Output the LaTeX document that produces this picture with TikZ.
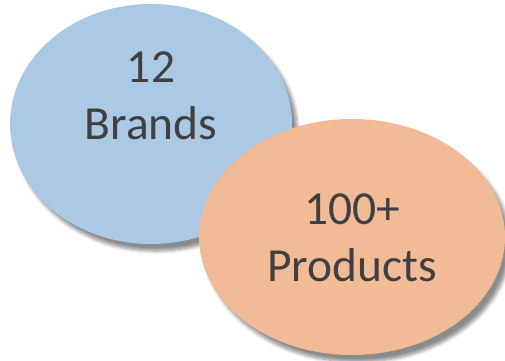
\documentclass[tikz,border=0pt]{standalone}
\usepackage{fontspec}
\setmainfont{Carlito}
\usepackage{xcolor}
\usetikzlibrary{shapes.geometric,shadows.blur}
\definecolor{brandblue}{RGB}{171,200,229}
\definecolor{prodorange}{RGB}{242,187,151}
\definecolor{textgray}{RGB}{64,64,64}
\tikzstyle{bubble} = [ellipse, inner sep=0pt, blur shadow={shadow xshift=3pt, shadow yshift=-4pt, shadow blur steps=6, shadow opacity=45}]
\tikzstyle{caption} = [text=textgray, align=center, font=\fontsize{27pt}{32.5pt}\selectfont]

\begin{document}
\begin{tikzpicture}
\useasboundingbox (0,0) rectangle (10.1,-7.22);
\node [bubble, fill=brandblue, minimum width=5.64cm, minimum height=4.8cm] (brands) at (3.02,-2.48) {};
\node [bubble, fill=prodorange, minimum width=6.12cm, minimum height=4.72cm] (products) at (7.04,-4.74) {};

\node [caption] (brandstext) at ([yshift=0.56cm]brands.center) {12\\Brands};
\node [caption] (productstext) at ([yshift=-0.02cm]products.center) {100+\\Products};
\end{tikzpicture}
\end{document}
